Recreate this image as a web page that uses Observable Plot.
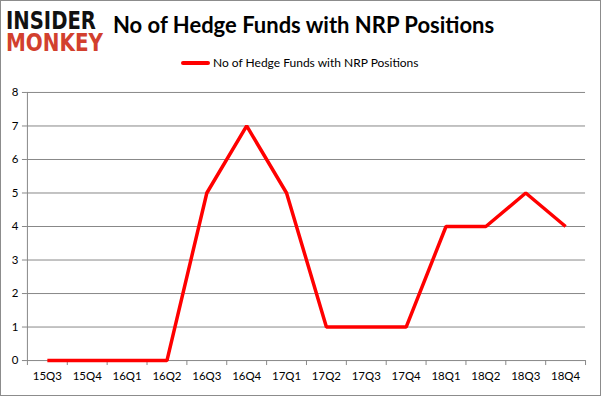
<!DOCTYPE html>
<html><head><meta charset="utf-8">
<script src="https://cdn.jsdelivr.net/npm/d3@7"></script>
<script src="https://cdn.jsdelivr.net/npm/@observablehq/plot@0.6"></script>
<style>
html,body{margin:0;padding:0;background:#fff;}
#wrap{position:relative;width:601px;height:396px;box-sizing:border-box;border:1px solid #8c8c8c;overflow:hidden;font-family:Lato,"Open Sans",sans-serif;}
#logo{position:absolute;left:0;top:0;overflow:visible;}
#title{position:absolute;left:112px;top:11px;font-size:22px;line-height:26px;font-weight:bold;color:#000;white-space:nowrap;}
#legend{position:absolute;left:180px;top:54px;font-size:12px;line-height:16px;color:#000;display:flex;align-items:center;white-space:nowrap;}
#legend .sw{display:inline-block;width:29px;height:4px;background:#ff0000;margin-right:3px;border-radius:2px;}
#chart{position:absolute;left:0;top:80px;}
#chart svg{font-family:Lato,"Open Sans",sans-serif;}
#chart g[aria-label="y-axis tick"] path, #chart g[aria-label="x-axis tick"] path{stroke:#888;}
</style></head>
<body>
<div id="wrap">
<svg id="logo" width="110" height="66">
  <text x="5" y="28" font-family="'DejaVu Sans'" font-weight="bold" font-size="25" textLength="90" lengthAdjust="spacingAndGlyphs" fill="#111">INSIDER</text>
  <text x="5" y="50" font-family="'DejaVu Sans'" font-weight="bold" font-size="24" textLength="97" lengthAdjust="spacingAndGlyphs" fill="#d2402e">MONKEY</text>
</svg>
<div id="title">No of Hedge Funds with NRP Positions</div>
<div id="legend"><span class="sw"></span>No of Hedge Funds with NRP Positions</div>
<div id="chart"></div>
</div>
<script>
const categories = ["15Q3","15Q4","16Q1","16Q2","16Q3","16Q4","17Q1","17Q2","17Q3","17Q4","18Q1","18Q2","18Q3","18Q4"];
const values = [0,0,0,0,5,7,5,1,1,1,4,4,5,4];
const yTicks = [0,1,2,3,4,5,6,7,8];

const data = categories.map((c,i)=>({i:i+0.5, q:c, v:values[i]}));

const chart = Plot.plot({
  width: 601,
  height: 316,
  marginLeft: 26,
  marginRight: 15,
  marginTop: 11,
  marginBottom: 36,
  style: {fontSize: "11.5px", color: "#000", background: "transparent"},
  x: {type: "linear", domain: [0, categories.length]},
  y: {domain: [0, 8]},
  marks: [
    Plot.ruleY(yTicks, {stroke: "#888", strokeWidth: 1}),
    Plot.ruleX([0], {stroke: "#888"}),
    Plot.axisY({ticks: yTicks, tickSize: 5, tickPadding: 4, tickFormat: d3.format("d"), label: null}),
    Plot.axisX({ticks: d3.range(0, categories.length + 1), tickSize: 5, tickFormat: () => "", label: null}),
    Plot.axisX({ticks: data.map(d=>d.i), tickSize: 0, tickPadding: 11, tickFormat: t => categories[Math.round(t - 0.5)], label: null}),
    Plot.line(data, {x: "i", y: "v", stroke: "#ff0000", strokeWidth: 3.5, strokeLinejoin: "miter", strokeLinecap: "butt"})
  ]
});
document.getElementById("chart").appendChild(chart);
</script>
</body></html>
